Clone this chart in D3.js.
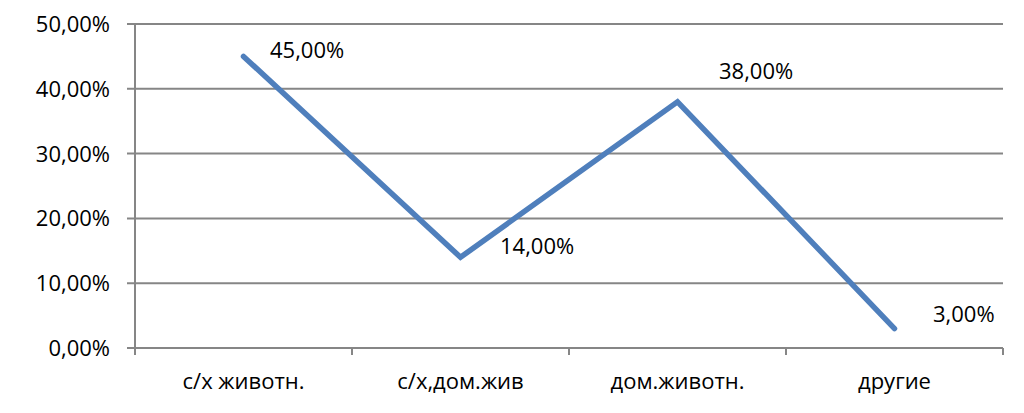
<!DOCTYPE html>
<html><head><meta charset="utf-8">
<script src="https://cdn.jsdelivr.net/npm/d3@7"></script>
<style>body{margin:0;background:#fff}svg{display:block}text{font-family:"Open Sans","Noto Sans",sans-serif;fill:#000}</style>
</head><body>
<svg id="c" width="1024" height="413"></svg>
<script>
const categories = ["с/х животн.", "с/х,дом.жив", "дом.животн.", "другие"];
const values = [0.45, 0.14, 0.38, 0.03];
const yTicks = [0, 0.1, 0.2, 0.3, 0.4, 0.5];
const labelOffsets = [[26.5, -6], [39.5, -11], [41.5, -31], [38.5, -14]];

const W = 1024, H = 413, m = {l:135, r:21, t:24, b:65};
const svg = d3.select("#c");
const x = d3.scaleBand().domain(categories).range([m.l, W - m.r]);
const y = d3.scaleLinear().domain([0, 0.5]).range([H - m.b, m.t]);
const fmt = v => d3.format(".2f")(v * 100).replace(".", ",") + "%";
const grid = "#868686";
const fs = 22;

svg.append("g").selectAll("line").data(yTicks).join("line")
  .attr("x1", m.l - 8).attr("x2", W - m.r)
  .attr("y1", d => y(d)).attr("y2", d => y(d))
  .attr("stroke", grid).attr("stroke-width", 2);
svg.append("line").attr("x1", m.l).attr("x2", m.l).attr("y1", m.t).attr("y2", H - m.b + 7)
  .attr("stroke", grid).attr("stroke-width", 2);
const bounds = categories.map(c => x(c)).concat([x(categories[categories.length-1]) + x.bandwidth()]);
svg.append("g").selectAll("line").data(bounds.slice(1)).join("line")
  .attr("x1", d => d).attr("x2", d => d).attr("y1", y(0)).attr("y2", y(0) + 7)
  .attr("stroke", grid).attr("stroke-width", 2);
svg.append("g").selectAll("text").data(yTicks).join("text")
  .attr("x", m.l - 25).attr("y", d => y(d)).attr("dy", "0.36em")
  .attr("text-anchor", "end").attr("font-size", fs).text(fmt);
svg.append("g").selectAll("text").data(categories).join("text")
  .attr("x", d => x(d) + x.bandwidth()/2).attr("y", y(0) + 33).attr("dy", "0.36em")
  .attr("text-anchor", "middle").attr("font-size", fs).text(d => d);
const line = d3.line().x((d, i) => x(categories[i]) + x.bandwidth()/2).y(d => y(d));
svg.append("path").datum(values).attr("d", line).attr("fill", "none")
  .attr("stroke", "#4f7fbc").attr("stroke-width", 5.5)
  .attr("stroke-linecap", "round").attr("stroke-linejoin", "miter");
svg.append("g").selectAll("text").data(values).join("text")
  .attr("x", (d, i) => x(categories[i]) + x.bandwidth()/2 + labelOffsets[i][0])
  .attr("y", (d, i) => y(d) + labelOffsets[i][1]).attr("dy", "0.36em")
  .attr("font-size", fs).text(fmt);
</script>
</body></html>
